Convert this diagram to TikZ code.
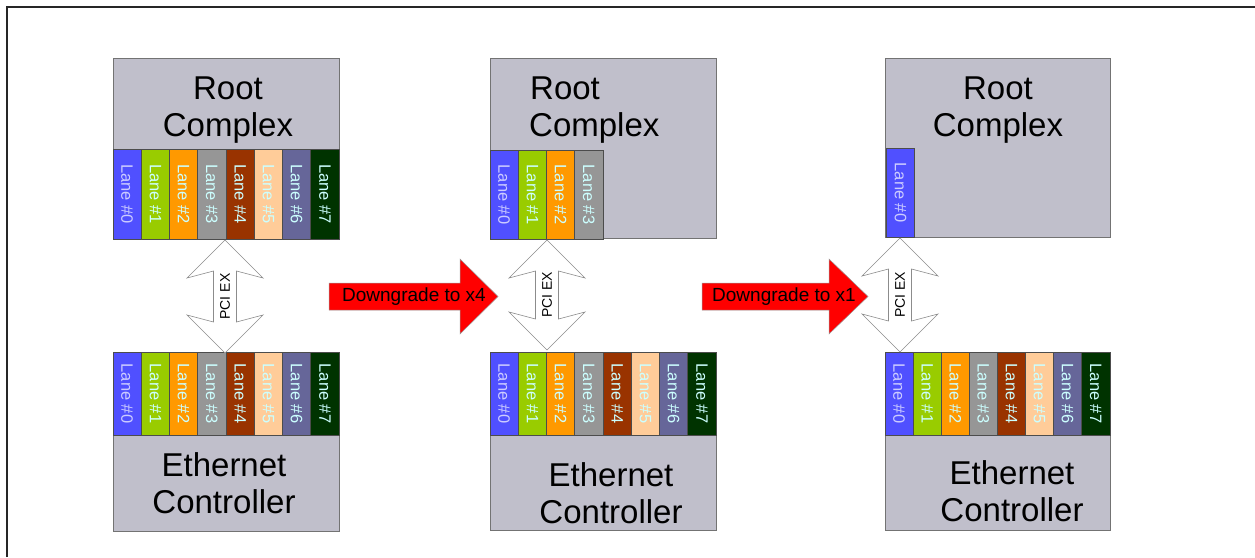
\documentclass[tikz,border=0pt]{standalone}
\usepackage{fontspec}
\setmainfont{Liberation Sans}
\definecolor{boxgray}{HTML}{C0BFCB}
\definecolor{lanea}{HTML}{5050FF}
\definecolor{laneb}{HTML}{99CC00}
\definecolor{lanec}{HTML}{FF9900}
\definecolor{laned}{HTML}{969696}
\definecolor{lanee}{HTML}{993300}
\definecolor{lanef}{HTML}{FFCC99}
\definecolor{laneg}{HTML}{666699}
\definecolor{laneh}{HTML}{003300}
\definecolor{lanetxt}{HTML}{CCFFFF}
\definecolor{lanetxta}{HTML}{CCCCFF}
\begin{document}
\begin{tikzpicture}[x=1pt,y=-1pt]
	\tikzstyle{frame}=[line width=1.6pt,black!85]
	\tikzstyle{chip}=[draw=black!55,fill=boxgray,line width=.8pt,inner sep=0pt]
	\tikzstyle{lane}=[draw=black!70,line width=.6pt,rotate=-90,inner sep=0pt,font=\fontsize{16.5}{16.5}\selectfont]
	\tikzstyle{chiptext}=[align=center,inner sep=0pt,font=\fontsize{33}{37.5}\selectfont]
	\tikzstyle{pcibody}=[draw=black!45,fill=white,line width=.6pt]
	\tikzstyle{pcitext}=[rotate=90,inner sep=0pt,font=\fontsize{14}{14}\selectfont]
	\tikzstyle{downarrow}=[draw=black!40,fill=red,line width=.5pt]
	\tikzstyle{downtext}=[inner sep=0pt,font=\fontsize{19}{19}\selectfont]

	\useasboundingbox (0,0) rectangle (1255,557);
	\draw[frame] (7,557) -- (7,7) -- (1255,7);

	% chips
	\node[chip,minimum width=226,minimum height=180] (rc1) at (226,148) {};
	\node[chip,minimum width=226,minimum height=180] (rc2) at (603,148) {};
	\node[chip,minimum width=225,minimum height=179] (rc3) at (997.5,147.5) {};
	\node[chip,minimum width=226,minimum height=179] (ec1) at (226,441.5) {};
	\node[chip,minimum width=226,minimum height=178] (ec2) at (603,441) {};
	\node[chip,minimum width=225,minimum height=178] (ec3) at (997.5,441) {};

	% lanes
	\foreach \i/\c/\t in {0/lanea/lanetxta,1/laneb/lanetxt,2/lanec/lanetxt,3/laned/lanetxt,4/lanee/lanetxt,5/lanef/lanetxt,6/laneg/lanetxt,7/laneh/lanetxt} {
		\node[lane,fill=\c,text=\t,minimum width=90,minimum height=28.25] (lt1\i) at ({113+28.25*\i+14.125},194) {Lane \#\i};
		\node[lane,fill=\c,text=\t,minimum width=83,minimum height=28.25] (lb1\i) at ({113+28.25*\i+14.125},393.5) {Lane \#\i};
		\node[lane,fill=\c,text=\t,minimum width=83,minimum height=28.25] (lb2\i) at ({490+28.25*\i+14.125},393.5) {Lane \#\i};
		\node[lane,fill=\c,text=\t,minimum width=83,minimum height=28.1] (lb3\i) at ({885+28.1*\i+14.05},393.5) {Lane \#\i};
	}
	\foreach \i/\c/\t in {0/lanea/lanetxta,1/laneb/lanetxt,2/lanec/lanetxt,3/laned/lanetxt} {
		\node[lane,fill=\c,text=\t,minimum width=89,minimum height=28.25] (lt2\i) at ({490+28.25*\i+14.125},194.5) {Lane \#\i};
	}
	\node[lane,fill=lanea,text=lanetxta,minimum width=89,minimum height=28.5] (lt30) at (900.5,192.5) {Lane \#0};

	% chip names
	\node[chiptext] (rt1) at (228,110) {Root\\Complex};
	\node[chiptext,align=left,anchor=west] (rt2) at (529,110) {\hspace*{1pt}Root\\Complex};
	\node[chiptext] (rt3) at (998,110) {Root\\Complex};
	\node[chiptext] (et1) at (224,483) {Ethernet\\Controller};
	\node[chiptext] (et2) at (611,493) {Ethernet\\Controller};
	\node[chiptext] (et3) at (1012,491) {Ethernet\\Controller};

	% pci express links
	\foreach \n/\cx/\ya/\yb in {1/225/240/353,2/547/240/350,3/900/238/352} {
		\draw[pcibody] (\cx,\ya) -- ({\cx+38},{\ya+38}) -- ({\cx+11.5},{\ya+31}) -- ({\cx+11.5},{\yb-31}) -- ({\cx+38},{\yb-38}) -- (\cx,\yb) -- ({\cx-38},{\yb-38}) -- ({\cx-11.5},{\yb-31}) -- ({\cx-11.5},{\ya+31}) -- ({\cx-38},{\ya+38}) -- cycle;
		\node[pcitext] (pci\n) at (\cx,{(\ya+\yb)/2}) {PCI EX};
	}

	% downgrade arrows
	\foreach \n/\xa/\xb/\xc/\tx in {4/329/460/498/414,1/702/829/868/784} {
		\draw[downarrow] (\xa,283) -- (\xb,283) -- (\xb,259) -- (\xc,296.5) -- (\xb,334) -- (\xb,310) -- (\xa,310) -- cycle;
		\node[downtext] (dg\n) at (\tx,297) {Downgrade to x\n};
	}
\end{tikzpicture}
\end{document}
